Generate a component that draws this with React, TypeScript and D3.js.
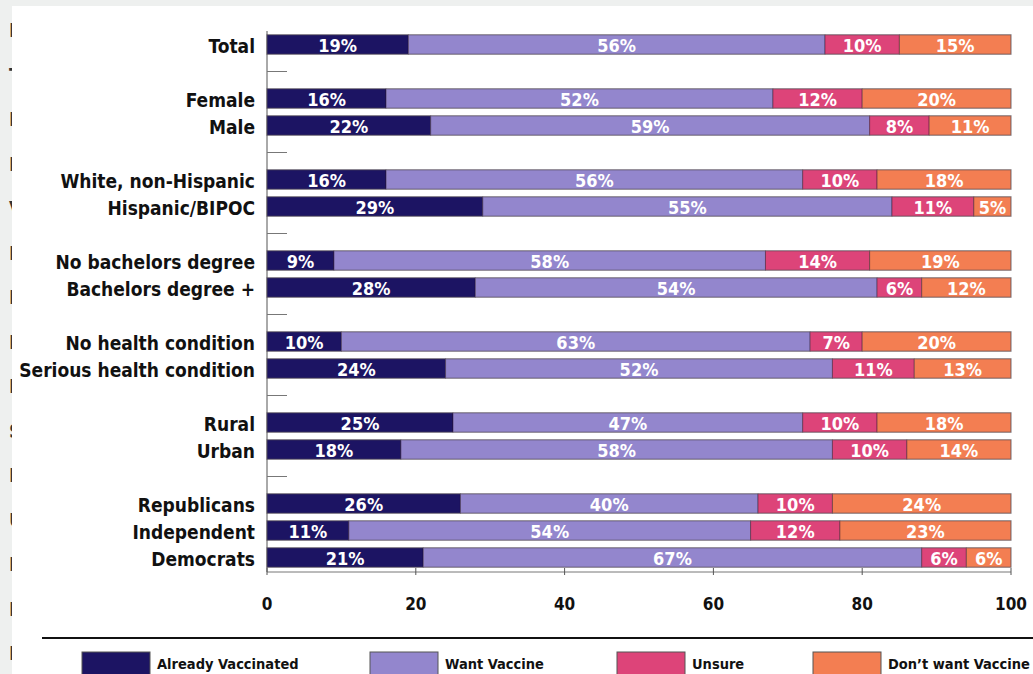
import React from "react";
import * as d3 from "d3";

const categories = [
  "Total",
  "Female", "Male",
  "White, non-Hispanic", "Hispanic/BIPOC",
  "No bachelors degree", "Bachelors degree +",
  "No health condition", "Serious health condition",
  "Rural", "Urban",
  "Republicans", "Independent", "Democrats",
];
const groupSizes = [1, 2, 2, 2, 2, 2, 3];

const seriesNames = ["Already Vaccinated", "Want Vaccine", "Unsure", "Don\u2019t want Vaccine"];
const alreadyVaccinated = [19, 16, 22, 16, 29, 9, 28, 10, 24, 25, 18, 26, 11, 21];
const wantVaccine = [56, 52, 59, 56, 55, 58, 54, 63, 52, 47, 58, 40, 54, 67];
const unsure = [10, 12, 8, 10, 11, 14, 6, 7, 11, 10, 10, 10, 12, 6];
const dontWant = [15, 20, 11, 18, 5, 19, 12, 20, 13, 18, 14, 24, 23, 6];
const xTicks = [0, 20, 40, 60, 80, 100];
const edgeLetters = ["I", "T", "I", "I", "V", "I", "I", "I", "I", "S", "I", "U", "I", "I", "I"];

const colors = ["#1c1463", "#9386cd", "#dd4479", "#f37e52"];
const FONT = "'DejaVu Sans Condensed', 'Liberation Sans', sans-serif";

export default function App() {
  const W = 1033, H = 674;
  const values = [alreadyVaccinated, wantVaccine, unsure, dontWant];

  const rows: { key: string; cat: number | null }[] = [];
  let ci = 0;
  groupSizes.forEach((g, gi) => {
    if (gi > 0) rows.push({ key: "s" + gi, cat: null });
    for (let k = 0; k < g; k++) {
      rows.push({ key: "c" + ci, cat: ci });
      ci++;
    }
  });

  const x = d3.scaleLinear().domain([0, 100]).range([267, 1011]);
  const y = d3.scaleBand<string>().domain(rows.map(r => r.key)).range([31, 571]).paddingInner(0.28).paddingOuter(0.14);
  const bw = y.bandwidth();

  const stackData = categories.map((c, i) => {
    const o: any = { cat: c };
    seriesNames.forEach((s, si) => (o[s] = values[si][i]));
    return o;
  });
  const stacked = d3.stack<any>().keys(seriesNames)(stackData);

  const legendX = [82, 370, 617, 813];

  return (
    <svg width={W} height={H} style={{ position: "absolute", left: 0, top: 0 }} fontFamily={FONT}>
      <defs>
        <clipPath id="edgeClip">
          <rect x={0} y={0} width={12} height={H} />
        </clipPath>
      </defs>
      <rect x={0} y={0} width={W} height={H} fill="#eef0ef" />
      <g clipPath="url(#edgeClip)">
        {edgeLetters.map((l, i) => (
          <text key={i} x={9} y={37 + i * 44.5} fontSize={20} fontWeight="bold" fill="#333">{l}</text>
        ))}
      </g>
      <rect x={12} y={6} width={W - 12} height={H - 6} fill="#ffffff" />

      <line x1={x(0)} x2={x(0)} y1={31} y2={572} stroke="#555" strokeWidth={1} />
      {rows.filter(r => r.cat === null).map(r => (
        <line key={r.key} x1={x(0)} x2={x(0) + 20} y1={(y(r.key) as number) + bw / 2} y2={(y(r.key) as number) + bw / 2} stroke="#777" strokeWidth={1} />
      ))}

      {stacked.map((layer, si) => (
        <g key={si}>
          {layer.map((d, i) => {
            const yy = y("c" + i) as number;
            return (
              <rect key={i} x={x(d[0])} y={yy} width={x(d[1]) - x(d[0])} height={bw}
                fill={colors[si]} stroke="rgba(40,20,40,0.45)" strokeWidth={1} />
            );
          })}
        </g>
      ))}
      {categories.map((c, i) => (
        <rect key={"o" + i} x={x(0)} y={y("c" + i) as number} width={x(100) - x(0)} height={bw}
          fill="none" stroke="rgba(120,120,120,0.5)" strokeWidth={1} />
      ))}
      {stacked.map((layer, si) => (
        <g key={"t" + si}>
          {layer.map((d, i) => {
            const yy = (y("c" + i) as number) + bw / 2;
            return (
              <text key={i} x={(x(d[0]) + x(d[1])) / 2} y={yy + 7} textAnchor="middle"
                fontSize={18} fontWeight="bold" fill="#ffffff">{values[si][i]}%</text>
            );
          })}
        </g>
      ))}

      {categories.map((c, i) => (
        <text key={c} x={255} y={(y("c" + i) as number) + bw / 2 + 8} textAnchor="end"
          fontSize={19} fontWeight="bold" fill="#111">{c}</text>
      ))}

      <line x1={x(0)} x2={x(100)} y1={572} y2={572} stroke="#777" strokeWidth={1} />
      {xTicks.map(t => (
        <g key={t}>
          <line x1={x(t)} x2={x(t)} y1={568} y2={575} stroke="#555" strokeWidth={1} />
          <text x={x(t)} y={610} textAnchor="middle" fontSize={17} fontWeight="bold" fill="#111">{t}</text>
        </g>
      ))}

      <line x1={42} x2={W} y1={638} y2={638} stroke="#111" strokeWidth={2} />

      {seriesNames.map((s, si) => (
        <g key={s}>
          <rect x={legendX[si]} y={652} width={68} height={30} fill={colors[si]} stroke="#555" strokeWidth={1} />
          <text x={legendX[si] + 75} y={669} fontSize={14.5} fontWeight="bold" fill="#111">{s}</text>
        </g>
      ))}
    </svg>
  );
}
